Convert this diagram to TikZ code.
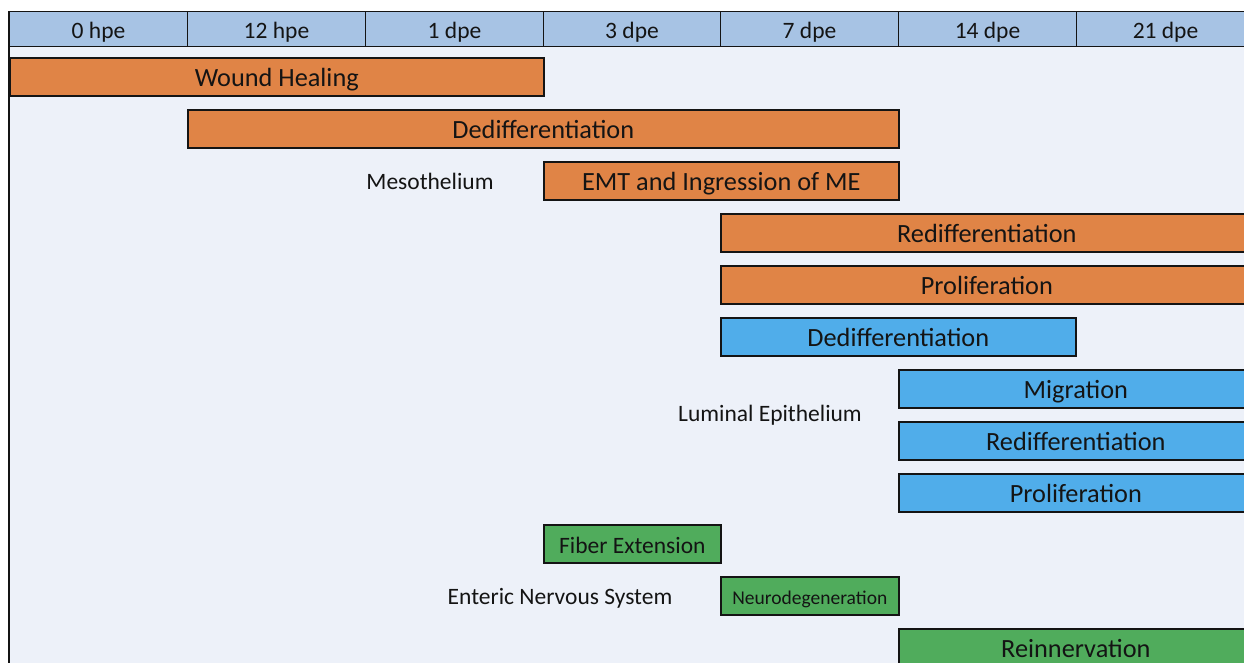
\documentclass[tikz,border=0pt]{standalone}
\usepackage{fontspec}
\setmainfont{Carlito}
\definecolor{hdr}{RGB}{167,195,228}
\definecolor{bg}{RGB}{237,241,249}
\definecolor{orng}{RGB}{224,132,70}
\definecolor{blu}{RGB}{80,173,234}
\definecolor{grn}{RGB}{80,172,92}
\definecolor{ink}{RGB}{20,20,20}
\tikzset{
  hcell/.style={draw=ink, line width=1pt, fill=hdr, minimum height=35pt, inner sep=0pt, anchor=north west, font=\fontsize{23.5}{26}\selectfont, text=ink, text height=18pt, text depth=0pt},
  bar/.style={draw=ink, line width=1.6pt, minimum height=38pt, inner sep=0pt, anchor=north west, font=\fontsize{26.3}{29}\selectfont, text=ink, text height=19.6pt, text depth=0pt},
  lbl/.style={font=\fontsize{23.5}{26}\selectfont, text=ink, inner sep=0pt, text height=17.6pt, text depth=0pt}
}
\begin{document}
\begin{tikzpicture}[x=1pt,y=-1pt]
\useasboundingbox (0,0) rectangle (1244,662);
\clip (0,0) rectangle (1244,662);
\fill[bg] (9,11) rectangle (1260,680);
% header
\node[hcell, minimum width=178pt] (h0) at (9,11) {0 hpe};
\node[hcell, minimum width=178pt] (h1) at (187,11) {12 hpe};
\node[hcell, minimum width=178pt] (h2) at (365,11) {1 dpe};
\node[hcell, minimum width=177pt] (h3) at (543,11) {3 dpe};
\node[hcell, minimum width=178pt] (h4) at (720,11) {7 dpe};
\node[hcell, minimum width=178pt] (h5) at (898,11) {14 dpe};
\node[hcell, minimum width=178pt] (h6) at (1076,11) {21 dpe};
\draw[ink, line width=2pt] (9,11) -- (9,680);
% Mesothelium
\node[bar, fill=orng, minimum width=534pt] (wh) at (9,57) {Wound Healing};
\node[bar, fill=orng, minimum width=711pt] (dd1) at (187,109) {Dedifferentiation};
\node[bar, fill=orng, minimum width=355pt] (emt) at (543,161) {EMT and Ingression of ME};
\node[bar, fill=orng, minimum width=532pt] (rd1) at (720,213) {Redifferentiation};
\node[bar, fill=orng, minimum width=532pt] (pr1) at (720,265) {Proliferation};
\node[lbl] (meso) at (430,181) {Mesothelium};
% Luminal epithelium
\node[bar, fill=blu, minimum width=355pt] (dd2) at (720,317) {Dedifferentiation};
\node[bar, fill=blu, minimum width=354pt] (mig) at (898,369) {Migration};
\node[bar, fill=blu, minimum width=354pt] (rd2) at (898,421) {Redifferentiation};
\node[bar, fill=blu, minimum width=354pt] (pr2) at (898,473) {Proliferation};
\node[lbl] (lum) at (770,413) {Luminal Epithelium};
% ENS
\node[bar, fill=grn, minimum width=177pt, font=\fontsize{23.5}{26}\selectfont, text height=19.4pt] (fib) at (543,524) {Fiber Extension};
\node[bar, fill=grn, minimum width=178pt, font=\fontsize{19.5}{22}\selectfont, text height=16.8pt] (neu) at (720,576) {Neurodegeneration};
\node[bar, fill=grn, minimum width=354pt] (rein) at (898,628) {Reinnervation};
\node[lbl] (ens) at (560,596) {Enteric Nervous System};
\end{tikzpicture}
\end{document}
